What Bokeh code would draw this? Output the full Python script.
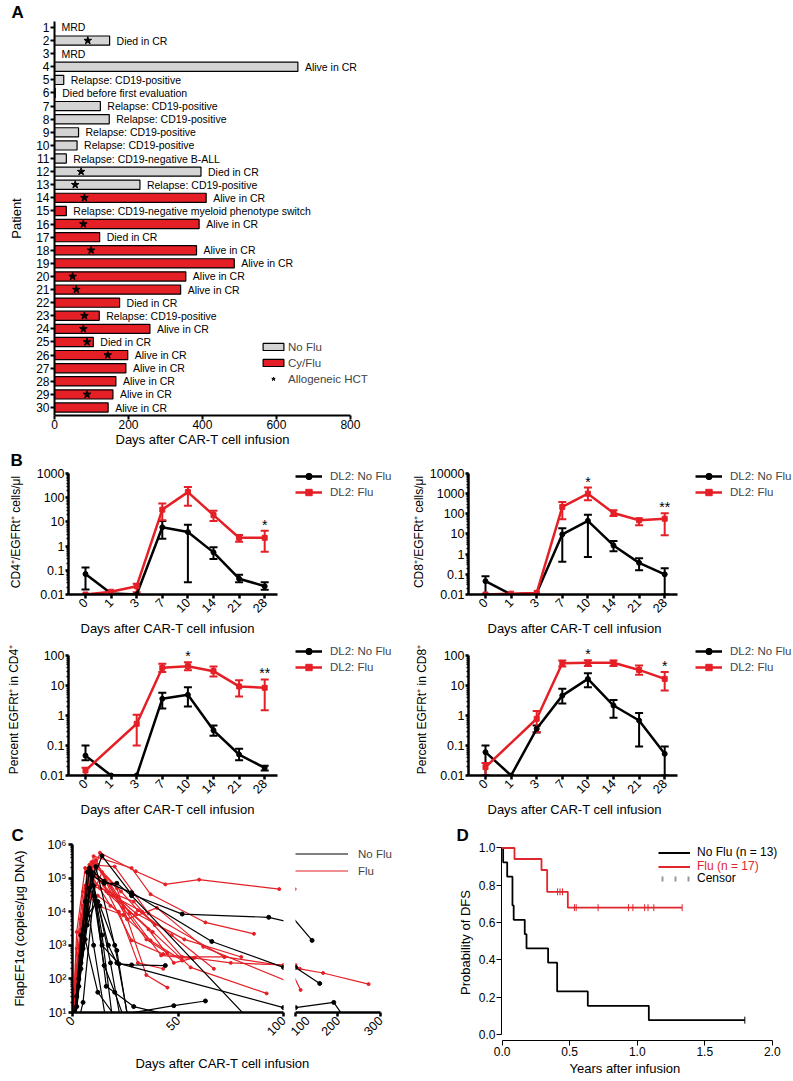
import math
import numpy as np
from bokeh.plotting import figure
from bokeh.models import (Range1d, FixedTicker, Legend, LegendItem, Label, LabelSet, Whisker, TeeHead, Title,
                          ColumnDataSource, CDSView, GroupFilter, CustomJSTickFormatter,
                          NumeralTickFormatter)
from bokeh.layouts import column, row
from bokeh.embed import file_html
from bokeh.resources import INLINE
from bokeh.core.properties import value

FONT = "Liberation Sans"
RED = "#e41f26"
GRAY = "#d4d4d4"
KM_RED = "#e0262d"

# ---------------- Panel A data ----------------
patients = list(range(1, 31))
days_followup = [0, 149, 0, 658, 25, 2, 124, 148, 65, 61, 32, 396, 231, 410, 32,
                 391, 122, 384, 486, 355, 341, 176, 121, 258, 105, 198, 193, 166, 158, 145]
groups = ["No Flu"] * 13 + ["Cy/Flu"] * 17
outcomes = ["MRD", "Died in CR", "MRD", "Alive in CR", "Relapse: CD19-positive",
            "Died before first evaluation", "Relapse: CD19-positive", "Relapse: CD19-positive",
            "Relapse: CD19-positive", "Relapse: CD19-positive", "Relapse: CD19-negative B-ALL",
            "Died in CR", "Relapse: CD19-positive", "Alive in CR",
            "Relapse: CD19-negative myeloid phenotype switch", "Alive in CR", "Died in CR",
            "Alive in CR", "Alive in CR", "Alive in CR", "Alive in CR", "Died in CR",
            "Relapse: CD19-positive", "Alive in CR", "Died in CR", "Alive in CR", "Alive in CR",
            "Alive in CR", "Alive in CR", "Alive in CR"]
hct_patients = [2, 12, 13, 14, 16, 18, 20, 21, 23, 24, 25, 26, 29]
hct_days = [90, 72, 56, 81, 78, 99, 49, 59, 81, 78, 88, 144, 88]
a_xticks = [0, 200, 400, 600, 800]

# ---------------- Panel B data ----------------
b_day_labels = ["0", "1", "3", "7", "10", "14", "21", "28"]

cd4_noflu = [0.07, 0.011, 0.01, 6.0, 3.8, 0.55, 0.045, 0.022]
cd4_noflu_hi = [0.13, None, None, 11, 7.6, 0.89, 0.066, 0.032]
cd4_noflu_lo = [0.016, None, None, 2.0, 0.032, 0.29, 0.032, 0.0156]
cd4_flu = [0.01, 0.013, 0.022, 32, 170, 19, 2.2, 2.2]
cd4_flu_hi = [None, None, 0.028, 57, 277, 29, 2.9, 4.3]
cd4_flu_lo = [None, None, 0.0125, 11.8, 46, 11, 1.5, 0.59]
cd4_sig = ["", "", "", "", "", "", "", "*"]

cd8_noflu = [0.046, 0.01, 0.012, 9.6, 45, 2.7, 0.37, 0.1]
cd8_noflu_hi = [0.08, None, None, 19, 89, 4.5, 0.62, 0.2]
cd8_noflu_lo = [0.01, None, None, 0.42, 0.72, 1.4, 0.16, 0.01]
cd8_flu = [0.01, 0.011, 0.012, 220, 1000, 110, 48, 57]
cd8_flu_hi = [None, None, None, 390, 2000, 150, 58, 107]
cd8_flu_lo = [None, None, None, 54, 475, 79, 27, 8.6]
cd8_sig = ["", "", "", "", "*", "", "", "**"]

pct4_noflu = [0.046, 0.01, 0.01, 3.6, 4.9, 0.32, 0.05, 0.018]
pct4_noflu_hi = [0.1, None, None, 5.7, 8.8, 0.46, 0.078, 0.021]
pct4_noflu_lo = [0.032, None, None, 1.7, 2.0, 0.21, 0.032, 0.0147]
pct4_flu = [0.0147, None, 0.53, 39, 44, 30, 9.3, 8.4]
pct4_flu_hi = [0.018, None, 1.05, 53, 60, 43, 15, 16]
pct4_flu_lo = [0.01, None, 0.1, 28, 32, 20, 4.3, 1.5]
pct4_sig = ["", "", "", "", "*", "", "", "**"]

pct8_noflu = [0.06, 0.01, 0.36, 4.6, 16.6, 2.15, 0.68, 0.053]
pct8_noflu_hi = [0.1, None, 0.46, 7.8, 25.6, 3.3, 1.2, 0.093]
pct8_noflu_lo = [0.01, None, 0.27, 2.5, 8.8, 0.84, 0.093, 0.01]
pct8_flu = [0.019, None, 0.78, 55, 57, 57, 33, 16.6]
pct8_flu_hi = [0.026, None, 1.4, 68, 70, 68, 46, 28]
pct8_flu_lo = [0.01, None, 0.28, 43, 45, 45, 23, 6.8]
pct8_sig = ["", "", "", "", "*", "", "", "*"]

# ---------------- Panel C data ----------------
c_flu_days = [
    [0, 5, 13, 30, 44, 60, 98],
    [0, 4, 10, 28, 37, 63, 86],
    [0, 3, 8, 20, 36, 72, 110, 165, 272],
    [0, 2, 6, 18, 27, 42, 57],
    [0, 3, 9, 21, 35, 45],
    [0, 4, 8, 14, 28, 43, 75, 100],
    [0, 5, 11, 19, 38, 56, 92],
    [0, 2, 7, 15, 22, 36, 48, 58],
    [0, 6, 12, 26, 40, 62, 112],
    [0, 3, 9, 17, 33, 52, 72],
    [0, 4, 8, 16, 24, 35, 45],
    [0, 5, 10, 23, 31, 47, 67],
    [0, 3, 6, 13, 29, 39],
    [0, 2, 5, 12, 22, 31, 43],
    [0, 4, 9, 18, 26, 37, 52],
    [0, 6, 14, 21, 30, 53, 80],
    [0, 1, 4, 8, 12, 24],
]
c_flu_vals = [
    [3, 1.2e4, 5.7e5, 1.6e5, 6.5e4, 9e4, 4.7e4],
    [2, 6e3, 4.5e5, 2e5, 3.3e4, 4.8e3, 2.2e3],
    [2, 600, 2.5e5, 2.2e5, 9e3, 450, 200, 150, 70],
    [4, 2.5e3, 2e5, 6.5e4, 9e3, 500, 400],
    [2, 800, 3e5, 5e4, 130, 55],
    [1, 1.5e3, 1.5e5, 8e4, 1.4e3, 550, 300, 260],
    [2, 2e3, 3.5e5, 3e4, 2.5e3, 220, 37],
    [3, 250, 1.8e5, 6e4, 2e4, 3e3, 300, 430],
    [1, 5e4, 2.5e5, 6e3, 1.3e4, 900, 47],
    [1, 120, 2e5, 3.5e4, 1e4, 450, 450],
    [2, 3e3, 1e5, 4e4, 1.3e4, 1.5e3, 600],
    [1, 1.5e4, 3e5, 4e4, 1.1e4, 2e3, 200],
    [2, 1e3, 6e4, 5e4, 2e4, 4e3],
    [3, 800, 4e4, 3e4, 1e4, 300, 200],
    [1, 2e3, 1.2e5, 1.5e4, 6e3, 1.4e3, 350],
    [2, 1e4, 1.5e5, 2.8e4, 9e3, 1.5e3, 450],
    [1, 50, 2.5e3, 3e4, 1.5e4, 8e3],
]
c_noflu_days = [
    [0, 6, 14, 28, 52, 93, 139],
    [0, 5, 8, 15, 28, 66, 100, 157],
    [0, 7, 15, 21, 28, 82],
    [0, 4, 9, 14, 22, 28, 44],
    [0, 3, 8, 13, 21, 26],
    [0, 5, 10, 15, 20, 24],
    [0, 2, 6, 12, 20, 48, 63],
    [0, 7, 12, 18, 23],
    [0, 4, 10, 17, 21, 100, 190, 215],
    [0, 3, 7, 11, 16, 29, 44],
    [0, 2, 5, 9, 14, 19],
    [0, 1, 4, 7, 10, 16],
    [0, 4, 11, 20, 26],
]
c_noflu_vals = [
    [2, 2e4, 4.6e5, 3.3e4, 8.5e3, 6.8e3, 1.4e3],
    [1, 3e3, 2e5, 8e4, 3.7e4, 1.3e3, 220, 73],
    [1, 1.5e5, 7e4, 7e4, 3e4, 8],
    [1, 300, 1.2e5, 1e3, 280, 260, 250],
    [1, 100, 5e4, 1.5e4, 700, 8],
    [1, 20, 3e4, 250, 40, 8],
    [1, 30, 1.5e3, 40, 8, 16, 22],
    [1, 8e3, 2e4, 300, 5],
    [1, 500, 6e4, 1e3, 300, 14, 20, 7],
    [1, 60, 4e3, 2e4, 60, 15, 9],
    [1, 15, 800, 1.5e5, 2e3, 6],
    [1, 10, 200, 2e4, 1e3, 5],
    [1, 2e3, 2.2e5, 1e3, 9],
]

# ---------------- Panel D data ----------------
km_noflu_t = [0, 0.007, 0.037, 0.076, 0.085, 0.167, 0.18, 0.34, 0.407, 0.634, 1.086, 1.797]
km_noflu_s = [1, 0.923, 0.846, 0.692, 0.615, 0.538, 0.462, 0.385, 0.231, 0.154, 0.077, 0.077]
km_flu_t = [0, 0.091, 0.291, 0.333, 0.486, 1.333]
km_flu_s = [1, 0.941, 0.882, 0.765, 0.680, 0.680]
cens_noflu_t = [1.797]
cens_noflu_s = [0.077]
cens_flu_t = [0.41, 0.428, 0.447, 0.535, 0.548, 0.71, 0.935, 0.968, 1.055, 1.08, 1.123, 1.333]
cens_flu_s = [0.765, 0.765, 0.765, 0.68, 0.68, 0.68, 0.68, 0.68, 0.68, 0.68, 0.68, 0.68]


def base_fig(**kw):
    p = figure(output_backend="svg", toolbar_location=None, title=None, **kw)
    p.xgrid.visible = False
    p.ygrid.visible = False
    p.outline_line_color = None
    return p


def style_axes(p, lw, tick_size, label_size="13px", tick_out=4, standoff=2):
    for ax in p.axis:
        ax.axis_line_width = lw
        ax.axis_line_color = "black"
        ax.major_tick_line_width = lw
        ax.major_tick_line_color = "black"
        ax.minor_tick_line_width = max(1, lw * 0.6)
        ax.minor_tick_line_color = "black"
        ax.major_tick_out = tick_out
        ax.major_tick_in = 0
        ax.minor_tick_out = 2
        ax.minor_tick_in = 0
        ax.major_label_text_font = FONT
        ax.major_label_text_font_size = tick_size
        ax.major_label_text_color = "black"
        ax.axis_label_text_font = FONT
        ax.axis_label_text_font_size = label_size
        ax.axis_label_text_font_style = "normal"
        ax.axis_label_text_color = "black"
        ax.major_label_standoff = standoff


def letter(p, txt, offset):
    p.add_layout(Title(text=txt, align="left", offset=offset, standoff=0, vertical_align="bottom",
                       text_font=FONT, text_font_size="17px", text_font_style="bold",
                       text_color="black"), "above")


def below_title(p, txt, offset, standoff=0):
    p.add_layout(Title(text=txt, align="left", offset=offset, standoff=standoff, vertical_align="top",
                       text_font=FONT, text_font_size="13px", text_font_style="normal",
                       text_color="black"), "below")


# ================= Panel A =================
pA = base_fig(width=400, height=448, x_range=Range1d(0, 930), y_range=Range1d(30.61, 0.544),
              min_border_left=54, min_border_right=2, min_border_top=19, min_border_bottom=33)
style_axes(pA, 2, "12px", tick_out=4, standoff=1)
pA.xaxis.ticker = FixedTicker(ticks=a_xticks)
pA.xaxis.bounds = (0, 800)
pA.yaxis.ticker = FixedTicker(ticks=patients)
pA.yaxis.axis_label = "Patient"
pA.yaxis.axis_label_standoff = 9
pA.xaxis.major_label_standoff = 0

srcA = ColumnDataSource(dict(patient=patients, days=days_followup, outcome=outcomes, group=groups))
r_no = pA.hbar(y="patient", left=0, right="days", height=0.7, source=srcA,
               view=CDSView(filter=GroupFilter(column_name="group", group="No Flu")),
               fill_color=GRAY, line_color="black", line_width=1.2)
r_cy = pA.hbar(y="patient", left=0, right="days", height=0.7, source=srcA,
               view=CDSView(filter=GroupFilter(column_name="group", group="Cy/Flu")),
               fill_color=RED, line_color="black", line_width=1.2)
r_star = pA.scatter(x=hct_days, y=hct_patients, marker="star", size=8,
                    fill_color="black", line_color="black")
pA.add_layout(LabelSet(x="days", y="patient", text="outcome", source=srcA, x_offset=7,
                       text_baseline="middle", text_align="left",
                       text_font=value(FONT), text_font_size="10.5px", text_color="black"))
legA = Legend(items=[LegendItem(label="No Flu", renderers=[r_no]),
                     LegendItem(label="Cy/Flu", renderers=[r_cy]),
                     LegendItem(label="Allogeneic HCT", renderers=[r_star])],
              location=(206, 29), glyph_width=26, glyph_height=9, label_height=15, spacing=1,
              padding=0, margin=0, label_standoff=2, border_line_color=None,
              background_fill_alpha=0, label_text_font=FONT, label_text_font_size="11.5px")
pA.add_layout(legA)
letter(pA, "A", -43)
below_title(pA, "Days after CAR-T cell infusion", 61)

# ================= Panel B =================
fmt_b = CustomJSTickFormatter(code="return tick >= 1 ? String(Math.round(tick)) : String(Number(tick.toPrecision(1)));")
B_PX = 25.6


def split(vals, hi, lo):
    d = dict(x=[], y=[])
    w = dict(x=[], hi=[], lo=[])
    for i, v in enumerate(vals):
        if v is None:
            continue
        d["x"].append(i)
        d["y"].append(v)
        if hi[i] is not None:
            w["x"].append(i)
            w["hi"].append(hi[i])
            w["lo"].append(lo[i])
    return ColumnDataSource(d), ColumnDataSource(w)


def make_b(width, height, top_border, bottom_border, right_border, axis_px, headroom_px, y_hi,
           ylabel, als, title_offset, nf, nf_hi, nf_lo, fl, fl_hi, fl_lo, sig, legend_vy):
    frame_w = width - 68 - right_border
    x0 = -0.664
    x1 = x0 + frame_w / B_PX
    pxdec = axis_px / math.log10(y_hi / 0.01)
    y_end = y_hi * 10 ** (headroom_px / pxdec)
    p = base_fig(width=width, height=height, x_range=Range1d(x0, x1), y_range=Range1d(0.01, y_end),
                 y_axis_type="log", min_border_left=68, min_border_right=right_border,
                 min_border_top=top_border, min_border_bottom=bottom_border)
    style_axes(p, 2.5, "12.5px", tick_out=4, standoff=2)
    p.yaxis.major_tick_out = 3
    p.yaxis.major_label_standoff = 1
    p.yaxis.formatter = fmt_b
    p.yaxis.bounds = (0.01, y_hi)
    p.yaxis.axis_label_text_font_size = "12px"
    p.xaxis.bounds = (x0, 7.5)
    p.xaxis.ticker = FixedTicker(ticks=list(range(len(b_day_labels))))
    p.xaxis.major_label_overrides = {i: s for i, s in enumerate(b_day_labels)}
    p.xaxis.major_label_orientation = math.pi / 4
    p.yaxis.axis_label = ylabel
    p.yaxis.axis_label_standoff = als
    below_title(p, "Days after CAR-T cell infusion", title_offset, standoff=3)
    out = []
    for vals, hi, lo, col, mk in ((nf, nf_hi, nf_lo, "black", "circle"),
                                  (fl, fl_hi, fl_lo, RED, "square")):
        src, wsrc = split(vals, hi, lo)
        p.add_layout(Whisker(base="x", upper="hi", lower="lo", source=wsrc, dimension="height",
                             line_color=col, line_width=2,
                             upper_head=TeeHead(size=8, line_color=col, line_width=2),
                             lower_head=TeeHead(size=8, line_color=col, line_width=2)))
        l = p.line("x", "y", source=src, line_color=col, line_width=2.5)
        s = p.scatter("x", "y", source=src, marker=mk, size=5, fill_color=col, line_color=col)
        out.append((l, s))
    sx, sy, st = [], [], []
    for i, t in enumerate(sig):
        if t:
            sx.append(i)
            sy.append(fl_hi[i] if fl_hi[i] is not None else fl[i])
            st.append(t)
    p.add_layout(LabelSet(x="x", y="y", text="t", source=ColumnDataSource(dict(x=sx, y=sy, t=st)),
                          y_offset=6, text_align="center", text_baseline="middle",
                          text_font=value(FONT), text_font_size="14px", text_color="black"))
    leg = Legend(items=[LegendItem(label="DL2: No Flu", renderers=list(out[0])),
                        LegendItem(label="DL2: Flu", renderers=list(out[1]))],
                 location=(227, legend_vy), glyph_width=27, glyph_height=16, label_height=16,
                 spacing=0, padding=0, margin=0, label_standoff=8, border_line_color=None,
                 background_fill_alpha=0, label_text_font=FONT, label_text_font_size="11.5px")
    p.add_layout(leg)
    return p


pB1 = make_b(400, 195, 20, 49, 5, 122, 4, 1000, "CD4\u207a/EGFRt\u207a cells/\u03bcl", 11, 12,
             cd4_noflu, cd4_noflu_hi, cd4_noflu_lo, cd4_flu, cd4_flu_hi, cd4_flu_lo, cd4_sig, 94)
pB2 = make_b(393, 195, 20, 49, 1, 122, 4, 10000, "CD8\u207a/EGFRt\u207a cells/\u03bcl", 1, 19,
             cd8_noflu, cd8_noflu_hi, cd8_noflu_lo, cd8_flu, cd8_flu_hi, cd8_flu_lo, cd8_sig, 94)
pB3 = make_b(400, 180, 0, 48, 5, 120, 12, 100, "Percent EGFRt\u207a in CD4\u207a", 16, 12,
             pct4_noflu, pct4_noflu_hi, pct4_noflu_lo, pct4_flu, pct4_flu_hi, pct4_flu_lo, pct4_sig, 100)
pB4 = make_b(393, 180, 0, 48, 1, 120, 12, 100, "Percent EGFRt\u207a in CD8\u207a", 8, 19,
             pct8_noflu, pct8_noflu_hi, pct8_noflu_lo, pct8_flu, pct8_flu_hi, pct8_flu_lo, pct8_sig, 100)
letter(pB1, "B", -58)

# ================= Panel C =================
fmt_c = CustomJSTickFormatter(code="""
const sup = {"0":"\u2070","1":"\u00b9","2":"\u00b2","3":"\u00b3","4":"\u2074","5":"\u2075","6":"\u2076","7":"\u2077","8":"\u2078","9":"\u2079","-":"\u207b"};
const e = Math.round(Math.log10(tick));
return "10" + String(e).split("").map(c => sup[c]).join("");
""")

src_red_lines = ColumnDataSource(dict(xs=c_flu_days, ys=c_flu_vals))
src_blk_lines = ColumnDataSource(dict(xs=c_noflu_days, ys=c_noflu_vals))
src_red_pts = ColumnDataSource(dict(x=[d for s in c_flu_days for d in s], y=[v for s in c_flu_vals for v in s]))
src_blk_pts = ColumnDataSource(dict(x=[d for s in c_noflu_days for d in s], y=[v for s in c_noflu_vals for v in s]))


def make_c(width, left_border, right_border, x0, x1, ticks, bounds, show_y):
    kw = {}
    if not show_y:
        kw["y_axis_location"] = None
    p = base_fig(width=width, height=224, x_range=Range1d(x0, x1), y_range=Range1d(10, 1e6),
                 y_axis_type="log", min_border_left=left_border, min_border_right=right_border,
                 min_border_top=20, min_border_bottom=35, **kw)
    style_axes(p, 2.5, "12.5px", tick_out=4, standoff=2)
    p.xaxis.ticker = FixedTicker(ticks=ticks)
    p.xaxis.bounds = bounds
    p.xaxis.major_label_orientation = math.pi / 4
    if show_y:
        p.yaxis.formatter = fmt_c
        p.yaxis.axis_label = "FlapEF1\u03b1 (copies/\u03bcg DNA)"
        p.yaxis.axis_label_standoff = 17
    rr = p.multi_line("xs", "ys", source=src_red_lines, line_color=RED, line_width=1.2)
    p.scatter("x", "y", source=src_red_pts, marker="circle", size=3, fill_color=RED, line_color=RED)
    rb = p.multi_line("xs", "ys", source=src_blk_lines, line_color="black", line_width=1.2)
    p.scatter("x", "y", source=src_blk_pts, marker="circle", size=4, fill_color="black", line_color="black")
    return p, rr, rb


pC1, _, _ = make_c(289, 72, 6, 0, 100, [0, 50, 100], (0, 100), True)
pC2, rr2, rb2 = make_c(111, 6, 2, 100, 342.4, [100, 200, 300], (100, 300), False)
legC = Legend(items=[LegendItem(label="No Flu", renderers=[rb2]), LegendItem(label="Flu", renderers=[rr2])],
              location=(0, 133), glyph_width=53, glyph_height=17, label_height=17, spacing=0,
              padding=0, margin=0, label_standoff=10, border_line_color=None, background_fill_alpha=0,
              label_text_font=FONT, label_text_font_size="11.5px")
pC2.add_layout(legC)
letter(pC1, "C", -61)

pCt = figure(width=400, height=34, output_backend="svg", toolbar_location=None, title=None,
             x_axis_location=None, y_axis_location=None, min_border=0)
pCt.outline_line_color = None
pCt.xgrid.visible = False
pCt.ygrid.visible = False
pCt.add_layout(Label(x=222, y=18, x_units="screen", y_units="screen",
                     text="Days after CAR-T cell infusion", text_align="center",
                     text_baseline="middle", text_font=FONT, text_font_size="13px", text_color="black"))

# ================= Panel D =================
pD = base_fig(width=393, height=258, x_range=Range1d(-0.0052, 2.039), y_range=Range1d(-0.032, 1.0187),
              min_border_left=101, min_border_right=16, min_border_top=20, min_border_bottom=41)
style_axes(pD, 1, "12px", tick_out=5, standoff=1)
pD.xaxis.ticker = FixedTicker(ticks=[0, 0.5, 1.0, 1.5, 2.0])
pD.yaxis.ticker = FixedTicker(ticks=[0, 0.2, 0.4, 0.6, 0.8, 1.0])
pD.xaxis.formatter = NumeralTickFormatter(format="0.0")
pD.yaxis.formatter = NumeralTickFormatter(format="0.0")
pD.xaxis.bounds = (0, 2)
pD.yaxis.bounds = (0, 1)
pD.yaxis.axis_label = "Probability of DFS"
pD.yaxis.axis_label_standoff = 3

r_km_nf = pD.step(km_noflu_t, km_noflu_s, mode="after", line_color="black", line_width=1.8)
r_km_fl = pD.step(km_flu_t, km_flu_s, mode="after", line_color=KM_RED, line_width=1.8)
pD.scatter(cens_flu_t, cens_flu_s, marker="dash", angle=math.pi / 2, size=7, line_color=KM_RED, line_width=1)
pD.scatter(cens_noflu_t, cens_noflu_s, marker="dash", angle=math.pi / 2, size=7, line_color="black", line_width=1)
# legend-only proxy (no visible data): gray tick pattern for "Censor"
r_cens_leg = pD.line(x=np.array([np.nan]), y=np.array([np.nan]), line_color="#9a9a9a", line_width=5,
                     line_dash="2 11", line_dash_offset=10)

for lab, rend, col, vy in (("No Flu (n = 13)", r_km_nf, "black", 181),
                           ("Flu (n = 17)", r_km_fl, KM_RED, 167),
                           ("Censor", r_cens_leg, "black", 155)):
    pD.add_layout(Legend(items=[LegendItem(label=lab, renderers=[rend])], location=(157, vy),
                         glyph_width=32, glyph_height=13, label_height=13, spacing=0, padding=0,
                         margin=0, label_standoff=7, border_line_color=None, background_fill_alpha=0,
                         label_text_font=FONT, label_text_font_size="12px", label_text_color=col))
letter(pD, "D", -45)
below_title(pD, "Years after infusion", 68, standoff=4)

layout = column(pA, row(pB1, pB2), row(pB3, pB4), row(column(row(pC1, pC2), pCt), pD))
open("out.html", "w").write(file_html(layout, INLINE))
